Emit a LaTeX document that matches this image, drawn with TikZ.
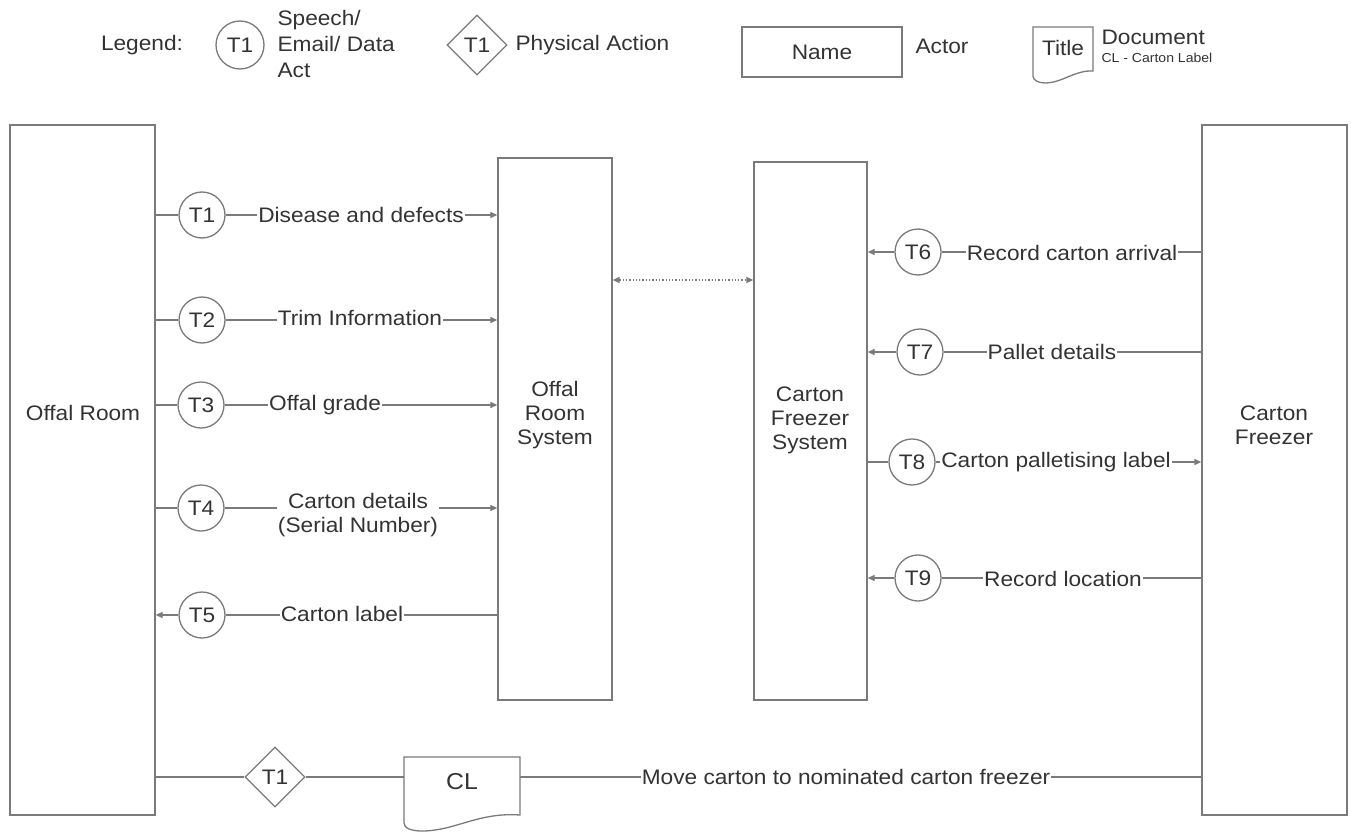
\documentclass[tikz,border=0pt]{standalone}
\usepackage{fontspec}
\setmainfont{Liberation Sans}[FakeStretch=1.08]
\usetikzlibrary{arrows.meta,shapes.geometric}
\definecolor{ln}{HTML}{7A7A7A}
\definecolor{tx}{HTML}{333333}
\begin{document}
\begin{tikzpicture}[x=1pt,y=-1pt,
  every node/.style={text=tx,font=\fontsize{21}{24}\selectfont},
  box/.style={draw=ln,line width=1.3pt,minimum width=#1,inner sep=0pt},
  tc/.style={circle,draw=ln,line width=1.3pt,minimum size=46pt,inner sep=0pt,fill=white},
  td/.style={diamond,draw=ln,line width=1.3pt,minimum size=60pt,inner sep=0pt,fill=white},
  lab/.style={fill=white,inner sep=1pt,align=center},
  conn/.style={draw=ln,line width=1.3pt},
  arr/.style={conn,-{Triangle[length=7pt,width=6pt]}},
  docshape/.style={draw=ln,line width=1.3pt,fill=white}
]
\useasboundingbox (0,0) rectangle (1351,832);

% ---------- legend ----------
\node (lgd) at (142,45) {Legend:};
\node[tc,minimum size=48pt] (lc) at (240,45) {T1};
\node[anchor=west,align=left,font=\fontsize{21}{26}\selectfont] (lct) at (274,44) {Speech/\\Email/ Data\\Act};
\node[td] (ld) at (477,45) {T1};
\node[anchor=west] (ldt) at (512,45) {Physical Action};
\node[box=160pt,minimum height=50pt] (la) at (822,52) {Name};
\node[anchor=west] (lat) at (912,46) {Actor};
\draw[docshape] (1033,27) -- (1093,27) -- (1093,71) .. controls (1075,70) and (1062,83) .. (1045,83) .. controls (1038,83) and (1033,80) .. (1033,76) -- cycle;
\node (ldoc) at (1063,48) {Title};
\node[anchor=west] (ldt1) at (1098,37) {Document};
\node[anchor=west,font=\fontsize{13}{15}\selectfont] (ldt2) at (1098,58) {CL - Carton Label};

% ---------- actors ----------
\node[box=145pt,minimum height=690pt] (offal) at (82.5,470) {};
\node (offalt) at (83,413) {Offal Room};
\node[box=114pt,minimum height=542pt] (ors) at (555,429) {};
\node[align=center] (orst) at (555,415) {Offal\\Room\\System};
\node[box=113pt,minimum height=538pt] (cfs) at (810.5,431) {};
\node[align=center] (cfst) at (810,420) {Carton\\Freezer\\System};
\node[box=145pt,minimum height=690pt] (cf) at (1274.5,470) {};
\node[align=center] (cft) at (1274,425) {Carton\\Freezer};

% dotted link
\coordinate (dl) at (612,280);
\coordinate (dr) at (754,280);
\draw[conn,dotted,{Triangle[length=7pt,width=6pt]}-{Triangle[length=7pt,width=6pt]}] (ors.east |- dl) -- (cfs.west |- dr);

% ---------- left transactions ----------
\node[tc] (t1) at (202,215) {T1};
\node[tc] (t2) at (202,320) {T2};
\node[tc] (t3) at (201,405) {T3};
\node[tc] (t4) at (201,508) {T4};
\node[tc] (t5) at (202,615) {T5};

\draw[conn] (offal.east |- t1) -- (t1);
\draw[arr] (t1) -- (ors.west |- t1);
\node[lab] (l1) at (361,215) {Disease and defects};

\draw[conn] (offal.east |- t2) -- (t2);
\draw[arr] (t2) -- (ors.west |- t2);
\node[lab] (l2) at (360,318) {Trim Information};

\draw[conn] (offal.east |- t3) -- (t3);
\draw[arr] (t3) -- (ors.west |- t3);
\node[lab] (l3) at (325,405) {Offal grade};

\draw[conn] (offal.east |- t4) -- (t4);
\draw[arr] (t4) -- (ors.west |- t4);
\node[lab] (l4) at (358,515) {Carton details\\(Serial Number)};

\draw[conn] (ors.west |- t5) -- (t5);
\draw[arr] (t5) -- (offal.east |- t5);
\node[lab] (l5) at (342,614) {Carton label};

% ---------- right transactions ----------
\node[tc] (t6) at (918,252) {T6};
\node[tc] (t7) at (920,352) {T7};
\node[tc] (t8) at (912,462) {T8};
\node[tc] (t9) at (918,578) {T9};

\draw[conn] (cf.west |- t6) -- (t6);
\draw[arr] (t6) -- (cfs.east |- t6);
\node[lab] (l6) at (1072,253) {Record carton arrival};

\draw[conn] (cf.west |- t7) -- (t7);
\draw[arr] (t7) -- (cfs.east |- t7);
\node[lab] (l7) at (1052,352) {Pallet details};

\draw[conn] (cfs.east |- t8) -- (t8);
\draw[arr] (t8) -- (cf.west |- t8);
\node[lab] (l8) at (1056,462) {Carton palletising label};

\draw[conn] (cf.west |- t9) -- (t9);
\draw[arr] (t9) -- (cfs.east |- t9);
\node[lab] (l9) at (1063,579) {Record location};

% ---------- bottom physical action ----------
\node[td] (pa) at (275,777) {T1};
\coordinate (clw) at (404,777);
\coordinate (cle) at (520,777);
\draw[conn] (offal.east |- pa) -- (pa);
\draw[conn] (pa) -- (clw);
\draw[conn] (cle) -- (cf.west |- cle);
\draw[docshape] (404,757) -- (520,757) -- (520,815) .. controls (478,812) and (455,831) .. (422,831) .. controls (411,831) and (404,828) .. (404,823) -- cycle;
\node (cl) at (462,782) {\fontsize{23}{25}\selectfont CL};
\node[lab] (lm) at (846,777) {Move carton to nominated carton freezer};
\end{tikzpicture}
\end{document}
